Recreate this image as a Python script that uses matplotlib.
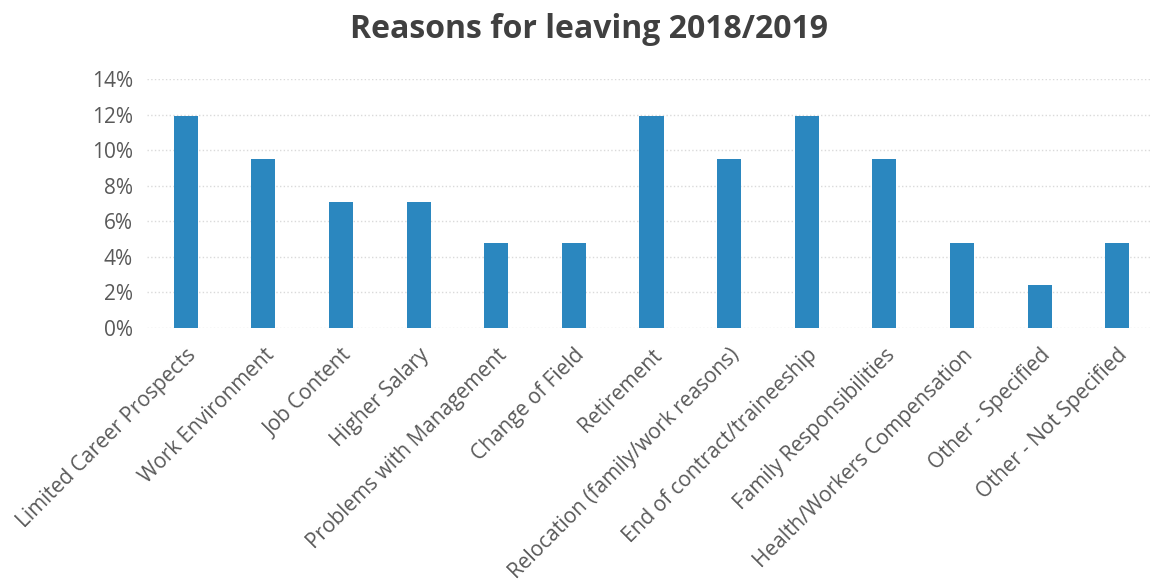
import matplotlib.pyplot as plt
from matplotlib.ticker import PercentFormatter

reasons = ['Limited Career Prospects', 'Work Environment', 'Job Content',
           'Higher Salary', 'Problems with Management', 'Change of Field',
           'Retirement', 'Relocation (family/work reasons)',
           'End of contract/traineeship', 'Family Responsibilities',
           'Health/Workers Compensation', 'Other - Specified',
           'Other - Not Specified']
# share of leavers, percent
share = [11.9, 9.5, 7.1, 7.1, 4.8, 4.8, 11.9, 9.5, 11.9, 9.5, 4.8, 2.4, 4.8]

plt.rcParams['font.family'] = ['Open Sans', 'DejaVu Sans']

fig = plt.figure(figsize=(11.5, 5.88), dpi=100)
ax = fig.add_axes([147 / 1150, 1 - 328 / 588, 1009 / 1150, 249 / 588])

ax.bar(range(len(reasons)), share, width=0.31, color='#2b87bf', zorder=3)

ax.set_xlim(-0.5, len(reasons) - 0.5)
ax.set_ylim(0, 14)
ax.set_yticks(range(0, 15, 2))
ax.yaxis.set_major_formatter(PercentFormatter(decimals=0))
ax.set_xticks(range(len(reasons)))
ax.set_xticklabels(reasons, rotation=45, ha='right', rotation_mode='anchor')

ax.tick_params(axis='both', length=0, labelsize=15, colors='#595959', pad=10)
ax.tick_params(axis='x', pad=12)
ax.grid(axis='y', color='#dadada', linestyle=':', linewidth=1, zorder=0)
for s in ax.spines.values():
    s.set_visible(False)

fig.text(0.512, 0.949, 'Reasons for leaving 2018/2019', ha='center',
         va='center', fontsize=23, fontweight='bold', color='#404040')

fig.savefig('out.png', dpi=100, facecolor='white')
